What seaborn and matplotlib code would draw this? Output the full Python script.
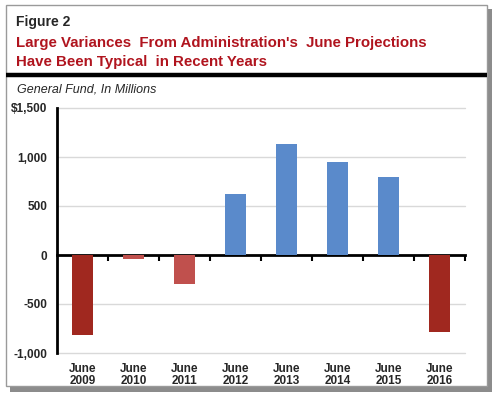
import matplotlib
matplotlib.use("Agg")
import matplotlib.pyplot as plt
import seaborn as sns
import pandas as pd
from matplotlib.patches import Rectangle
from matplotlib.lines import Line2D

# data
years = ["June\n2009", "June\n2010", "June\n2011", "June\n2012",
         "June\n2013", "June\n2014", "June\n2015", "June\n2016"]
variance = [-820, -40, -300, 620, 1130, 950, 800, -790]
bar_colors = ["#A0281F", "#C0504D", "#C0504D", "#5A8ACB",
              "#5A8ACB", "#5A8ACB", "#5A8ACB", "#A0281F"]
y_ticks = [-1000, -500, 0, 500, 1000, 1500]
y_labels = ["-1,000", "-500", "0", "500", "1,000", "$1,500"]

df = pd.DataFrame({"year": years, "variance": variance})

sns.set_style("white")
plt.rcParams["font.family"] = ["Liberation Sans", "DejaVu Sans"]

W, H = 498, 399
fig = plt.figure(figsize=(W / 100, H / 100), dpi=100)

# frame with drop shadow
fig.patches.append(Rectangle((10 / W, 1 - 392 / H), 482 / W, 383 / H,
                             transform=fig.transFigure, facecolor="#8c8c8c",
                             edgecolor="none", zorder=0))
fig.patches.append(Rectangle((6 / W, 1 - 386 / H), 481 / W, 381 / H,
                             transform=fig.transFigure, facecolor="white",
                             edgecolor="#9a9a9a", linewidth=1, zorder=1))
fig.lines.append(Line2D([6 / W, 487 / W], [1 - 75 / H, 1 - 75 / H],
                        transform=fig.transFigure, color="black", linewidth=3.2,
                        solid_capstyle="butt", zorder=2))

fig.text(16 / W, 1 - 22 / H, "Figure 2", fontsize=10, fontweight="bold",
         va="center", ha="left")
fig.text(16 / W, 1 - 43 / H, "Large Variances  From Administration's  June Projections",
         fontsize=10.8, fontweight="bold", color="#B0141E", va="center", ha="left")
fig.text(16 / W, 1 - 62 / H, "Have Been Typical  in Recent Years",
         fontsize=10.8, fontweight="bold", color="#B0141E", va="center", ha="left")
fig.text(17 / W, 1 - 90 / H, "General Fund, In Millions", fontsize=9,
         fontstyle="italic", va="center", ha="left")

ax = fig.add_axes([57 / W, 1 - 353 / H, (465 - 57) / W, (353 - 108) / H])
ax.set_zorder(3)
ax.patch.set_alpha(0)

sns.barplot(data=df, x="year", y="variance", hue="year", palette=bar_colors,
            legend=False, width=0.41, saturation=1, linewidth=0, ax=ax, zorder=3)

ax.set_xlim(-0.5, len(years) - 0.5)
ax.set_ylim(-1000, 1500)
ax.set_yticks(y_ticks)
ax.set_yticklabels(y_labels, fontsize=8.5, fontweight="bold")
ax.set_xlabel("")
ax.set_ylabel("")
for v in y_ticks:
    if v != 0:
        ax.axhline(v, color="#d9d9d9", linewidth=1, zorder=1, clip_on=False)

for s in ["top", "right", "bottom"]:
    ax.spines[s].set_visible(False)
ax.spines["left"].set_color("black")
ax.spines["left"].set_linewidth(2)
ax.spines["left"].set_zorder(4)
ax.tick_params(axis="y", direction="out", length=4, width=1.5, color="black", pad=3)
ax.tick_params(axis="x", length=0, pad=7)
for lbl in ax.get_xticklabels():
    lbl.set_fontsize(8.5)
    lbl.set_fontweight("bold")
    lbl.set_linespacing(1.05)

# zero line with category boundary ticks
zero_ax = ax.secondary_xaxis(1000 / 2500)
zero_ax.set_xticks([i + 0.5 for i in range(len(years))])
zero_ax.set_xticklabels([])
zero_ax.spines["bottom"].set_linewidth(2)
zero_ax.spines["bottom"].set_color("black")
zero_ax.tick_params(direction="out", length=4, width=1.5, color="black")

fig.savefig("out.png", dpi=100)
